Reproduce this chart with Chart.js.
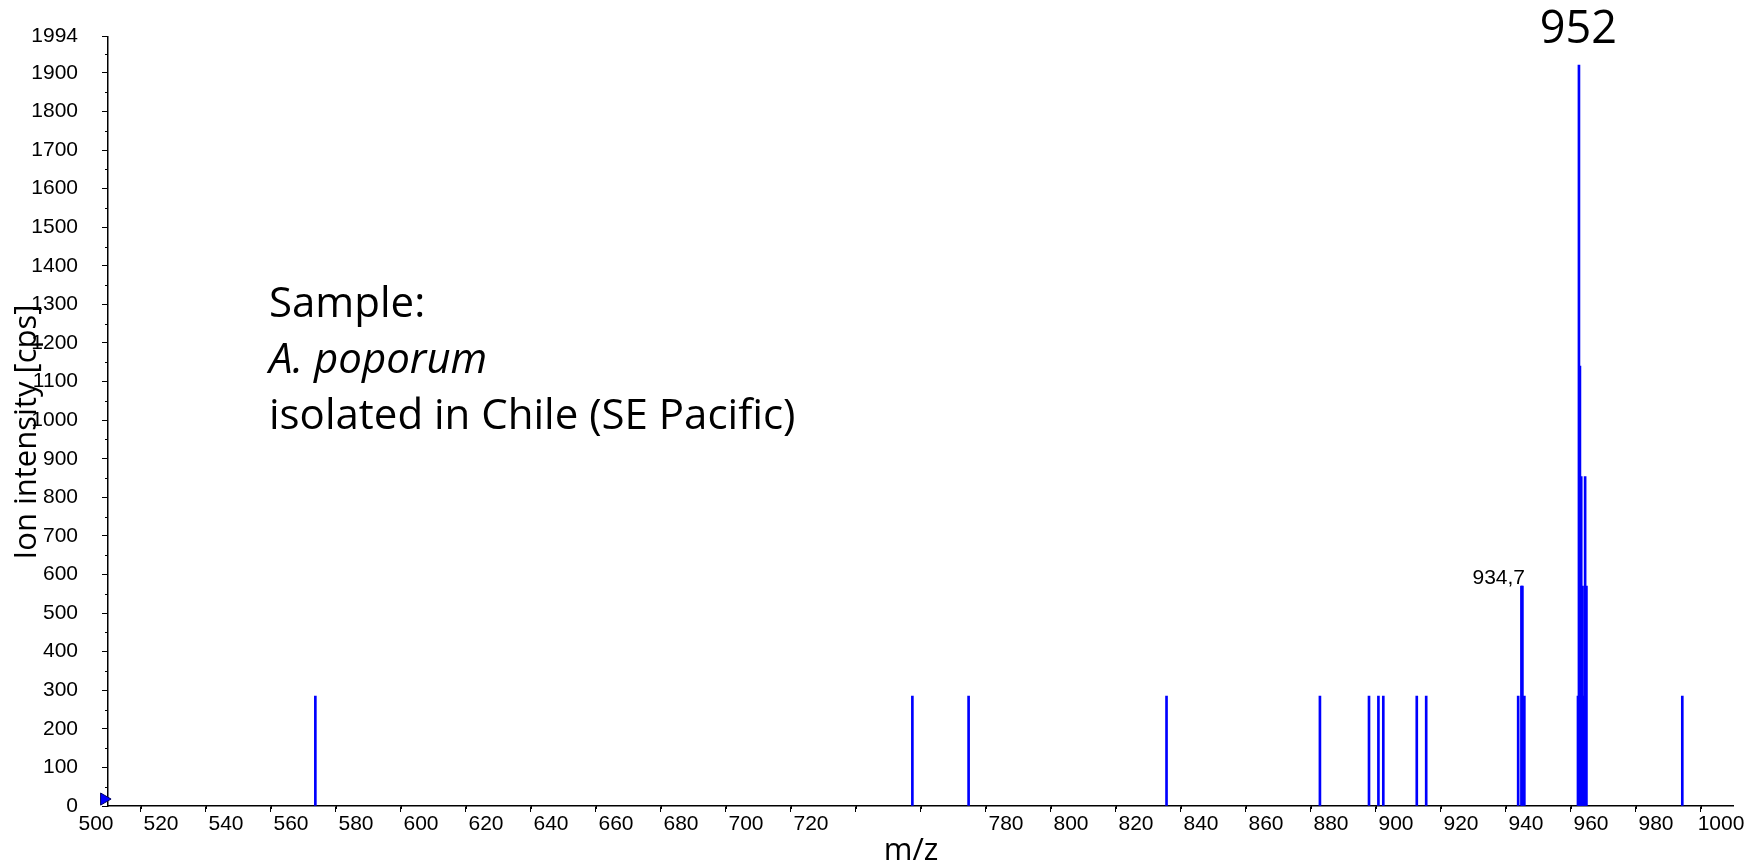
<!DOCTYPE html>
<html>
<head>
<meta charset="utf-8">
<script src="https://cdn.jsdelivr.net/npm/chart.js@4.4.1/dist/chart.umd.min.js"></script>
<style>
    html, body { margin: 0; padding: 0; background: #fff; }
    #wrap { width: 1758px; height: 867px; }
</style>
</head>
<body>
<div id="wrap"><canvas id="myChart" width="1758" height="867"></canvas></div>
<script>
// ===============================
// DATA
// ===============================

const peakMz = [
    563.8, 747.5, 764.8, 825.7, 872.9, 888.0, 890.9, 892.4, 902.7, 905.6,
    933.9, 934.9, 935.2, 935.8,
    952.3, 952.6, 952.9, 953.3, 953.7, 954.0, 954.5, 954.9,
    984.4
];

const peakIntensity = [
    285, 285, 285, 285, 285, 285, 285, 285, 285, 285,
    285, 570, 570, 285,
    285, 1920, 1140, 854, 570, 285, 854, 570,
    285
];

// start marker on the axis
const markerMz = [498.8];
const markerIntensity = [18];

// tick values
const xTickValues = [];
for (let v = 500; v <= 1000; v += 20) xTickValues.push(v);
const xHiddenLabels = [740, 760];
const yTickValues = [0, 100, 200, 300, 400, 500, 600, 700, 800, 900,
    1000, 1100, 1200, 1300, 1400, 1500, 1600, 1700, 1800, 1900, 1994];

// labels
const yTitle = "Ion intensity [cps]";
const xTitle = "m/z";
const topPeakLabel = "952";
const smallPeakLabel = "934,7";
const sampleLines = ["Sample:", "A. poporum", "isolated in Chile (SE Pacific)"];

const tickFont = { family: "'Liberation Sans', Arial, sans-serif", size: 21 };
const textFamily = "'Open Sans', 'Noto Sans', sans-serif";

// =======================================
// MINOR TICKS + TEXT
// =======================================

const extras = {
    id: 'extras',
    afterDraw(chart) {
        const c = chart.ctx;
        const xs = chart.scales.x;
        const ys = chart.scales.y;
        const area = chart.chartArea;

        // minor ticks
        c.save();
        c.strokeStyle = '#000';
        c.lineWidth = 1;
        c.beginPath();
        for (let v = 510; v < 1000; v += 20) {
            const px = Math.round(xs.getPixelForValue(v)) + 0.5;
            c.moveTo(px, area.bottom);
            c.lineTo(px, area.bottom + 3);
        }
        for (let v = 50; v < 1994; v += 100) {
            const py = Math.round(ys.getPixelForValue(v)) + 0.5;
            c.moveTo(area.left - 3, py);
            c.lineTo(area.left, py);
        }
        c.stroke();

        c.fillStyle = '#000';

        // peak labels
        c.font = "45px " + textFamily;
        c.textAlign = 'center';
        c.textBaseline = 'alphabetic';
        c.fillText(topPeakLabel, xs.getPixelForValue(952.4), 43);

        c.font = "21px " + tickFont.family;
        c.textAlign = 'right';
        c.fillText(smallPeakLabel, xs.getPixelForValue(936.0), ys.getPixelForValue(570) - 2);

        // sample text
        c.textAlign = 'left';
        c.font = "42px " + textFamily;
        c.fillText(sampleLines[0], 269, 317);
        c.font = "italic 42px " + textFamily;
        c.fillText(sampleLines[1], 269, 373);
        c.font = "42px " + textFamily;
        c.fillText(sampleLines[2], 269, 429);

        // axis titles
        c.font = "31px " + textFamily;
        c.textAlign = 'center';
        c.fillText(xTitle, 911, 860);

        c.translate(36, 432);
        c.rotate(-Math.PI / 2);
        c.fillText(yTitle, 0, 0);
        c.restore();
    }
};

// =======================================
// CHART
// =======================================

const ctx = document.getElementById('myChart').getContext('2d');

const myChart = new Chart(ctx, {

    type: 'bar',

    data: {
        datasets: [
            {
                type: 'bar',
                data: peakMz.map((m, i) => ({ x: m, y: peakIntensity[i] })),
                backgroundColor: '#0000ff',
                borderWidth: 0,
                barThickness: 2,
                grouped: false
            },
            {
                type: 'scatter',
                data: markerMz.map((m, i) => ({ x: m, y: markerIntensity[i] })),
                pointStyle: 'triangle',
                rotation: 90,
                radius: 7,
                backgroundColor: '#0000ff',
                borderColor: '#000060',
                borderWidth: 1,
                clip: false
            }
        ]
    },

    options: {
        responsive: false,
        animation: false,
        layout: { padding: { top: 33, right: 25, left: 0, bottom: 0 } },
        plugins: {
            legend: { display: false },
            tooltip: { enabled: false }
        },
        scales: {
            x: {
                type: 'linear',
                min: 500,
                max: 1000,
                offset: false,
                afterBuildTicks: s => { s.ticks = xTickValues.map(v => ({ value: v })); },
                afterFit: s => { s.height = 61; },
                ticks: {
                    autoSkip: false,
                    maxRotation: 0,
                    padding: 0,
                    labelOffset: -12,
                    color: '#000',
                    font: tickFont,
                    callback: v => xHiddenLabels.includes(v) ? '' : String(v)
                },
                grid: { drawOnChartArea: false, tickLength: 6, tickColor: '#000', tickWidth: 1 },
                border: { color: '#000', width: 1.5 }
            },
            y: {
                min: 0,
                max: 1994,
                afterBuildTicks: s => { s.ticks = yTickValues.map(v => ({ value: v })); },
                afterFit: s => { s.width = 108; },
                ticks: {
                    autoSkip: false,
                    padding: 24,
                    color: '#000',
                    font: tickFont,
                    callback: v => String(v)
                },
                grid: { drawOnChartArea: false, tickLength: 6, tickColor: '#000', tickWidth: 1 },
                border: { color: '#000', width: 1.5 }
            }
        }
    },

    plugins: [extras]
});
</script>
</body>
</html>
